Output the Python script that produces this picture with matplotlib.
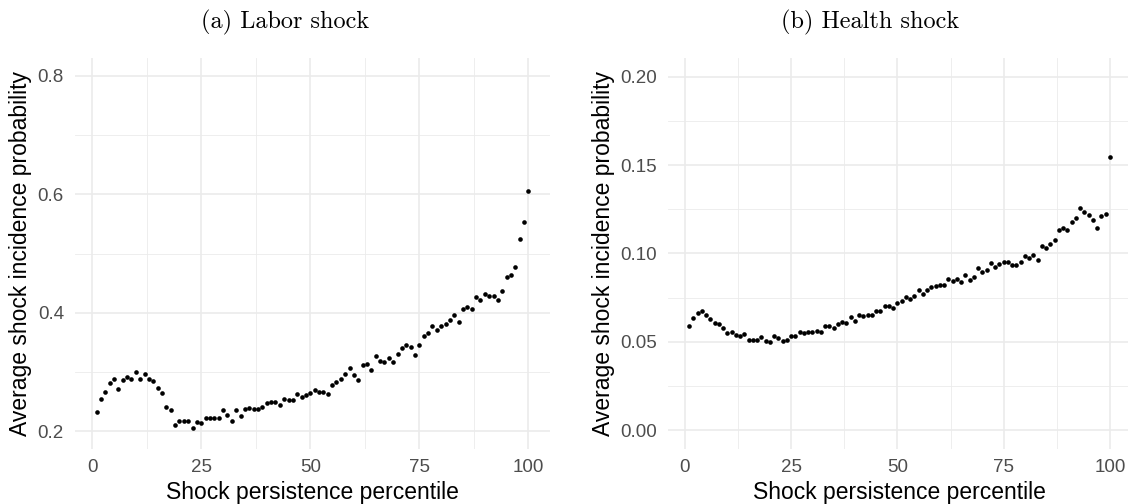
import matplotlib
matplotlib.use('Agg')
import matplotlib.pyplot as plt
from matplotlib.ticker import MultipleLocator

# percentiles 1..100
percentile = list(range(1, 101))

labor_prob = [
    0.233, 0.254, 0.266, 0.281, 0.289, 0.272, 0.287, 0.292, 0.288, 0.300,
    0.289, 0.296, 0.288, 0.285, 0.273, 0.265, 0.241, 0.236, 0.211, 0.217,
    0.217, 0.217, 0.206, 0.216, 0.214, 0.223, 0.223, 0.223, 0.223, 0.235,
    0.227, 0.217, 0.235, 0.225, 0.237, 0.240, 0.238, 0.237, 0.241, 0.248,
    0.249, 0.250, 0.245, 0.255, 0.253, 0.253, 0.262, 0.257, 0.261, 0.264,
    0.269, 0.266, 0.266, 0.262, 0.278, 0.283, 0.288, 0.296, 0.306, 0.295,
    0.287, 0.312, 0.313, 0.303, 0.327, 0.318, 0.317, 0.323, 0.317, 0.330,
    0.340, 0.346, 0.343, 0.329, 0.346, 0.361, 0.365, 0.377, 0.371, 0.378,
    0.381, 0.388, 0.397, 0.384, 0.406, 0.409, 0.407, 0.426, 0.422, 0.432,
    0.429, 0.428, 0.422, 0.436, 0.461, 0.463, 0.477, 0.524, 0.553, 0.606,
]

health_prob = [
    0.0593, 0.0634, 0.0664, 0.0677, 0.0651, 0.0627, 0.0608, 0.0602, 0.0578, 0.0551,
    0.0557, 0.0538, 0.0536, 0.0544, 0.0510, 0.0510, 0.0512, 0.0529, 0.0508, 0.0500,
    0.0531, 0.0521, 0.0504, 0.0512, 0.0536, 0.0536, 0.0555, 0.0551, 0.0557, 0.0555,
    0.0564, 0.0555, 0.0589, 0.0593, 0.0578, 0.0604, 0.0611, 0.0606, 0.0640, 0.0617,
    0.0655, 0.0648, 0.0651, 0.0655, 0.0674, 0.0677, 0.0702, 0.0702, 0.0690, 0.0721,
    0.0730, 0.0753, 0.0743, 0.0758, 0.0792, 0.0771, 0.0796, 0.0809, 0.0815, 0.0820,
    0.0824, 0.0856, 0.0847, 0.0856, 0.0839, 0.0879, 0.0852, 0.0869, 0.0916, 0.0894,
    0.0909, 0.0944, 0.0922, 0.0943, 0.0954, 0.0954, 0.0935, 0.0937, 0.0954, 0.0984,
    0.0975, 0.0990, 0.0963, 0.1040, 0.1029, 0.1056, 0.1078, 0.1133, 0.1142, 0.1135,
    0.1176, 0.1200, 0.1255, 0.1236, 0.1219, 0.1191, 0.1144, 0.1210, 0.1221, 0.1543,
]

titles = ['(a) Labor shock', '(b) Health shock']
xlabel = 'Shock persistence percentile'
ylabel = 'Average shock incidence probability'

plt.rcParams['font.family'] = ['Liberation Sans', 'DejaVu Sans']

fig = plt.figure(figsize=(11.28, 5.04), dpi=100)
W, H = 1128.0, 504.0

# axes boxes in pixels: left, top, right, bottom
boxes = [(75, 58, 550, 449), (668, 58, 1131, 449)]
panels = [
    (labor_prob, (0.17, 0.83), 0.2, 0.1),
    (health_prob, (-0.0105, 0.2105), 0.05, 0.025),
]

for (l, t, r, b), (vals, ylim, major, minor) in zip(boxes, panels):
    ax = fig.add_axes([l / W, (H - b) / H, (r - l) / W, (b - t) / H])
    ax.scatter(percentile, vals, s=11, color='black', linewidths=0, zorder=3)
    ax.set_xlim(-3.95, 104.95)
    ax.set_ylim(*ylim)
    ax.xaxis.set_major_locator(MultipleLocator(25))
    ax.xaxis.set_minor_locator(MultipleLocator(12.5))
    ax.yaxis.set_major_locator(MultipleLocator(major))
    ax.yaxis.set_minor_locator(MultipleLocator(minor))
    if major == 0.05:
        ax.yaxis.set_major_formatter(plt.FormatStrFormatter('%.2f'))
    else:
        ax.yaxis.set_major_formatter(plt.FormatStrFormatter('%.1f'))
    ax.grid(which='major', color='#ebebeb', linewidth=1.2, zorder=0)
    ax.grid(which='minor', color='#ebebeb', linewidth=0.6, zorder=0)
    ax.set_axisbelow(True)
    for s in ax.spines.values():
        s.set_visible(False)
    ax.tick_params(which='both', length=0)
    ax.tick_params(axis='x', pad=7, labelsize=13.5, labelcolor='#4d4d4d')
    ax.tick_params(axis='y', pad=8, labelsize=13.5, labelcolor='#4d4d4d')
    ax.set_xlabel(xlabel, fontsize=16.5, labelpad=3.5)
    ax.set_ylabel(ylabel, fontsize=16.5, labelpad=4)

# subfigure captions in a LaTeX-like serif
fig.text(285 / W, 1 - 22 / H, titles[0], family='cmr10', fontsize=17.5,
         ha='center', va='center')
fig.text(870 / W, 1 - 22 / H, titles[1], family='cmr10', fontsize=17.5,
         ha='center', va='center')

plt.savefig('out.png', dpi=100)
